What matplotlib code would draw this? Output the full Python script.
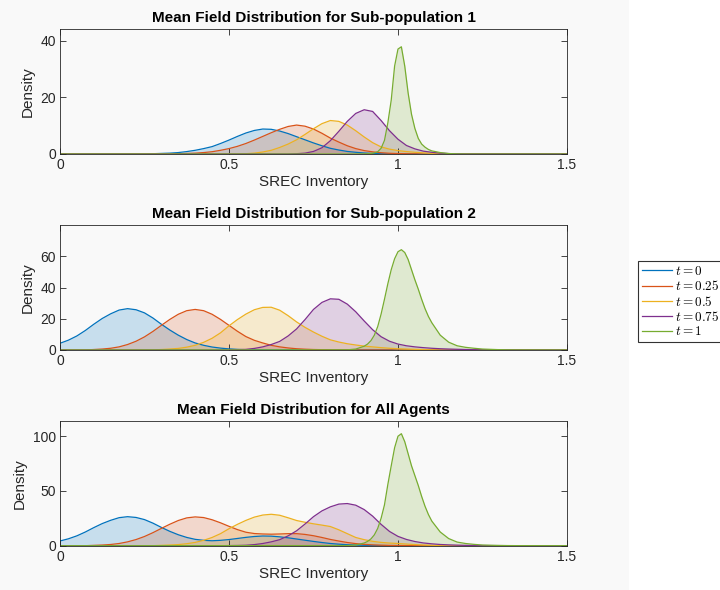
import numpy as np
import matplotlib.pyplot as plt
from matplotlib.patches import Rectangle

# x grids (SREC inventory): 0..1.35 every 0.025, then the axis end
x_std = list(np.round(np.arange(0, 1.351, 0.025), 3)) + [1.5]
x_green = [0.0, 0.85, 0.875,
           0.90, 0.91, 0.92, 0.93, 0.94, 0.95, 0.96, 0.97, 0.98, 0.99, 1.00,
           1.01, 1.02, 1.03, 1.04, 1.05, 1.06, 1.07, 1.08, 1.09, 1.10,
           1.125, 1.15, 1.175, 1.20, 1.225, 1.25, 1.275, 1.30, 1.325, 1.35,
           1.50]

times = ["0", "0.25", "0.5", "0.75", "1"]

# Sub-population 1 densities
sub1_t0 = [0, 0, 0, 0, 0, 0, 0, 0, 0, 0,
           0.05, 0.1, 0.2, 0.3, 0.5, 0.85, 1.3, 1.9, 2.6, 3.7,
           4.9, 6.2, 7.4, 8.3, 8.8, 8.7, 8.1, 7.2, 6.1, 5.0,
           3.9, 2.9, 2.0, 1.4, 0.9, 0.6, 0.35, 0.2, 0.1, 0.05,
           0, 0, 0, 0, 0, 0, 0, 0, 0, 0,
           0, 0, 0, 0, 0, 0]
sub1_t025 = [0, 0, 0, 0, 0, 0, 0, 0, 0, 0,
             0, 0, 0, 0, 0.1, 0.2, 0.3, 0.5, 0.8, 1.3,
             1.9, 2.7, 3.7, 4.9, 6.2, 7.5, 8.7, 9.7, 10.2, 9.8,
             8.8, 7.3, 5.6, 4.2, 2.9, 1.9, 1.2, 0.75, 0.45, 0.25,
             0.15, 0.1, 0.05, 0, 0, 0, 0, 0, 0, 0,
             0, 0, 0, 0, 0, 0]
sub1_t05 = [0, 0, 0, 0, 0, 0, 0, 0, 0, 0,
            0, 0, 0, 0, 0, 0, 0, 0, 0, 0,
            0, 0, 0.1, 0.3, 0.7, 1.3, 2.3, 3.5, 5.0, 6.9,
            8.9, 10.7, 11.8, 11.5, 10.2, 8.2, 6.0, 4.0, 2.5, 1.7,
            1.2, 0.85, 0.6, 0.4, 0.25, 0.15, 0.05, 0, 0, 0,
            0, 0, 0, 0, 0, 0]
sub1_t075 = [0, 0, 0, 0, 0, 0, 0, 0, 0, 0,
             0, 0, 0, 0, 0, 0, 0, 0, 0, 0,
             0, 0, 0, 0, 0, 0, 0, 0, 0.1, 0.3,
             0.9, 2.2, 4.7, 8.0, 11.5, 14.3, 15.6, 15.0, 11.8, 8.2,
             5.2, 3.0, 1.8, 1.0, 0.6, 0.3, 0.15, 0.05, 0, 0,
             0, 0, 0, 0, 0, 0]
sub1_t1 = [0, 0, 0,
           0.05, 0.1, 0.2, 0.4, 0.8, 2.0, 4.8, 11.0, 19.0, 31.0, 37.0,
           37.8, 31.0, 21.5, 14.0, 9.0, 5.5, 3.5, 2.4, 1.6, 1.1,
           0.5, 0.15, 0.05, 0, 0, 0, 0, 0, 0, 0,
           0]

# Sub-population 2 densities
sub2_t0 = [4.3, 6.3, 9.0, 12.5, 16.5, 20.2, 23.2, 25.6, 26.5, 25.8,
           23.8, 20.5, 16.5, 12.8, 9.5, 6.7, 4.5, 3.0, 1.9, 1.2,
           0.7, 0.4, 0.2, 0.1, 0.05, 0, 0, 0, 0, 0,
           0, 0, 0, 0, 0, 0, 0, 0, 0, 0,
           0, 0, 0, 0, 0, 0, 0, 0, 0, 0,
           0, 0, 0, 0, 0, 0]
sub2_t025 = [0, 0, 0, 0, 0.3, 0.6, 1.1, 2.0, 3.5, 5.6,
             8.4, 11.9, 15.8, 19.6, 22.9, 25.2, 26.0, 25.2, 22.9, 19.6,
             15.8, 12.0, 8.6, 6.2, 4.5, 3.0, 2.0, 1.3, 0.8, 0.5,
             0.3, 0.2, 0.1, 0.05, 0, 0, 0, 0, 0, 0,
             0, 0, 0, 0, 0, 0, 0, 0, 0, 0,
             0, 0, 0, 0, 0, 0]
sub2_t05 = [0, 0, 0, 0, 0, 0, 0, 0, 0, 0,
            0, 0, 0.3, 0.6, 1.0, 1.8, 3.0, 4.9, 7.5, 11.0,
            15.5, 19.5, 23.0, 25.8, 27.3, 27.4, 25.5, 22.0, 18.0, 14.5,
            11.5, 8.8, 6.5, 5.1, 4.0, 3.2, 2.5, 2.0, 1.5, 1.1,
            0.8, 0.6, 0.4, 0.25, 0.1, 0.05, 0, 0, 0, 0,
            0, 0, 0, 0, 0, 0]
sub2_t075 = [0, 0, 0, 0, 0, 0, 0, 0, 0, 0,
             0, 0, 0, 0, 0, 0, 0, 0, 0, 0,
             0.1, 0.2, 0.4, 1.0, 2.0, 3.5, 5.5, 9.0, 13.5, 19.5,
             26.0, 30.5, 32.8, 32.5, 29.4, 24.5, 18.6, 13.0, 8.5, 5.6,
             3.8, 2.7, 2.0, 1.5, 1.1, 0.8, 0.6, 0.45, 0.3, 0.2,
             0.15, 0.1, 0.1, 0.05, 0, 0]
sub2_t1 = [0, 0.1, 0.6,
           2.4, 3.8, 6.0, 9.5, 15.0, 23.0, 32.5, 42.5, 51.5, 58.5, 63.0,
           64.3, 62.5, 58.0, 51.5, 45.0, 39.0, 32.5, 26.5, 21.5, 17.5,
           9.5, 5.0, 2.7, 1.7, 1.1, 0.6, 0.4, 0.2, 0.1, 0.05,
           0]

# All agents densities
all_t0 = [4.3, 6.3, 9.0, 12.5, 16.5, 20.2, 23.2, 25.6, 26.5, 25.8,
          23.85, 20.6, 16.7, 13.1, 10.0, 7.55, 5.8, 4.9, 4.5, 4.9,
          5.6, 6.6, 7.6, 8.4, 8.85, 8.7, 8.1, 7.2, 6.1, 5.0,
          3.9, 2.9, 2.0, 1.4, 0.9, 0.6, 0.35, 0.2, 0.1, 0.05,
          0, 0, 0, 0, 0, 0, 0, 0, 0, 0,
          0, 0, 0, 0, 0, 0]
all_t025 = [0, 0, 0, 0, 0.3, 0.6, 1.1, 2.0, 3.5, 5.6,
            8.4, 11.9, 15.8, 19.6, 23.0, 25.4, 26.3, 25.7, 23.7, 20.9,
            17.7, 14.7, 12.3, 11.1, 10.7, 10.5, 10.7, 11.0, 11.0, 10.3,
            9.1, 7.5, 5.7, 4.25, 2.9, 1.9, 1.2, 0.75, 0.45, 0.25,
            0.15, 0.1, 0.05, 0, 0, 0, 0, 0, 0, 0,
            0, 0, 0, 0, 0, 0]
all_t05 = [0, 0, 0, 0, 0, 0, 0, 0, 0, 0,
           0, 0, 0.3, 0.6, 1.0, 1.8, 3.0, 4.9, 7.5, 11.0,
           15.5, 19.5, 23.1, 26.1, 28.0, 28.7, 27.8, 25.5, 23.0, 21.4,
           20.0, 18.8, 17.5, 14.5, 11.0, 7.5, 5.5, 4.0, 3.0, 2.4,
           2.0, 1.5, 1.0, 0.65, 0.35, 0.15, 0.05, 0, 0, 0,
           0, 0, 0, 0, 0, 0]
all_t075 = [0, 0, 0, 0, 0, 0, 0, 0, 0, 0,
            0, 0, 0, 0, 0, 0, 0, 0, 0, 0,
            0.1, 0.2, 0.4, 1.0, 2.0, 3.5, 5.5, 9.0, 13.6, 19.8,
            26.5, 31.8, 35.5, 38.0, 38.5, 37.0, 33.0, 27.0, 19.5, 13.0,
            8.5, 5.7, 3.8, 2.5, 1.7, 1.1, 0.75, 0.5, 0.3, 0.2,
            0.15, 0.1, 0.1, 0.05, 0, 0]
all_t1 = [0, 0.1, 0.6,
          2.45, 3.9, 6.2, 9.9, 15.8, 25.0, 37.3, 56.0, 73.0, 89.5, 100.0,
          102.3, 95.0, 84.0, 73.0, 64.0, 55.0, 45.0, 36.0, 28.5, 22.5,
          12.5, 6.5, 3.3, 2.0, 1.2, 0.6, 0.4, 0.2, 0.1, 0.05,
          0]

panels = [
    ("Mean Field Distribution for Sub-population 1",
     [sub1_t0, sub1_t025, sub1_t05, sub1_t075, sub1_t1], 44, [0, 20, 40]),
    ("Mean Field Distribution for Sub-population 2",
     [sub2_t0, sub2_t025, sub2_t05, sub2_t075, sub2_t1], 80, [0, 20, 40, 60]),
    ("Mean Field Distribution for All Agents",
     [all_t0, all_t025, all_t05, all_t075, all_t1], 114, [0, 50, 100]),
]

colors = ["#0072BD", "#D95319", "#EDB120", "#7E2F8E", "#77AC30"]
bg = "#f9f9f9"
ink = "#262626"

plt.rcParams["font.family"] = ["Liberation Sans", "DejaVu Sans"]
plt.rcParams["mathtext.fontset"] = "cm"

fig = plt.figure(figsize=(7.2, 5.9), dpi=100, facecolor="white")
fig.patches.append(Rectangle((0, 0), 629 / 720, 1, transform=fig.transFigure,
                             facecolor=bg, edgecolor="none", zorder=-10))

bottoms = [0.739, 0.4068, 0.0751]
lines = []
for (title, series, ytop, yticks), bottom in zip(panels, bottoms):
    ax = fig.add_axes([0.0833, bottom, 0.7042, 0.2115])
    ax.set_facecolor(bg)
    for i, y in enumerate(series):
        xs = x_green if i == 4 else x_std
        ax.fill_between(xs, y, color=colors[i], alpha=0.2, linewidth=0)
    for i, y in enumerate(series):
        xs = x_green if i == 4 else x_std
        ln, = ax.plot(xs, y, color=colors[i], lw=0.9, label=f"$t={times[i]}$")
        if bottom == bottoms[0]:
            lines.append(ln)
    ax.set_xlim(0, 1.5)
    ax.set_ylim(0, ytop)
    ax.set_xticks([0, 0.5, 1, 1.5])
    ax.set_xticklabels(["0", "0.5", "1", "1.5"])
    ax.set_yticks(yticks)
    ax.tick_params(direction="in", top=True, right=True, length=4, width=0.6,
                   labelsize=10, colors=ink, labelcolor=ink, pad=3)
    for s in ax.spines.values():
        s.set_color(ink)
        s.set_linewidth(0.6)
    ax.set_title(title, fontsize=11, fontweight="bold", pad=5)
    ax.set_xlabel("SREC Inventory", fontsize=11, color=ink, labelpad=2)
    ax.set_ylabel("Density", fontsize=11, color=ink, labelpad=4)

leg = fig.legend(handles=lines, loc="upper left", bbox_to_anchor=(638 / 720, 1 - 261 / 590),
                 fontsize=9.5, frameon=True, fancybox=False, handlelength=2.3,
                 borderpad=0.3, labelspacing=0.1, handletextpad=0.2, borderaxespad=0)
leg.get_frame().set_edgecolor("black")
leg.get_frame().set_linewidth(0.8)
leg.get_frame().set_facecolor("white")

plt.savefig("out.png", dpi=100)
